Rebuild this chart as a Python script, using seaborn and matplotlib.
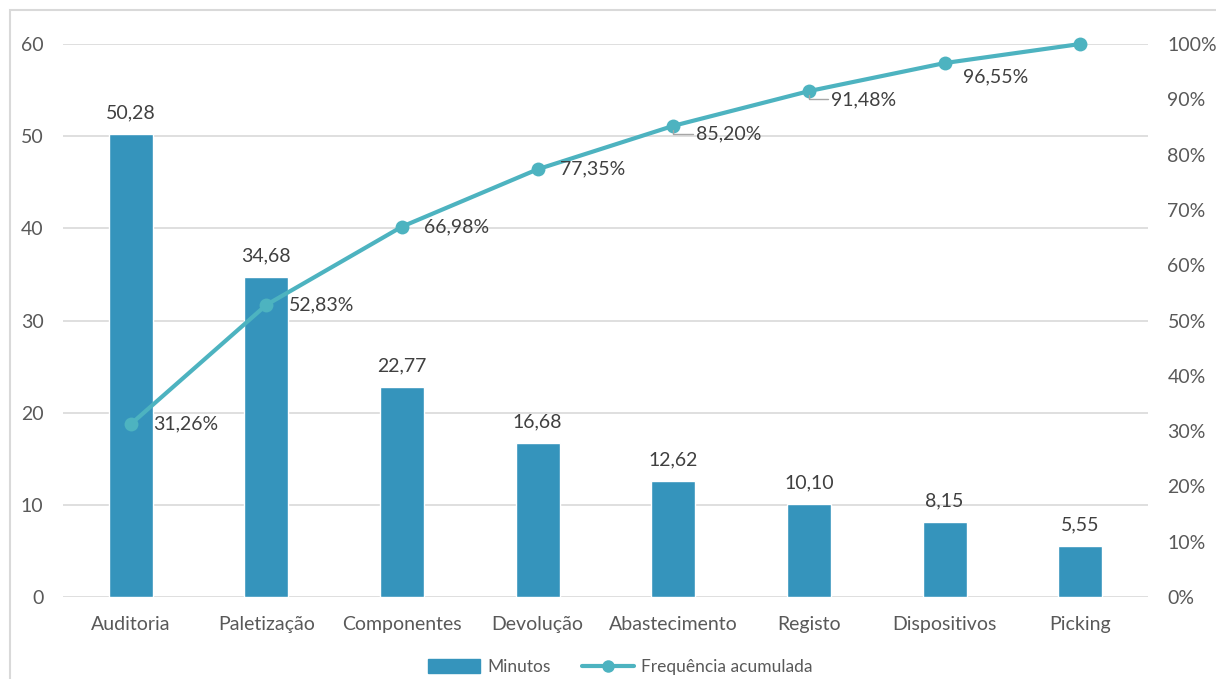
import matplotlib
matplotlib.use("Agg")
import matplotlib.pyplot as plt
from matplotlib.patches import Rectangle
from matplotlib.lines import Line2D
from matplotlib.ticker import FuncFormatter, MultipleLocator
import seaborn as sns
import pandas as pd

categorias = ["Auditoria", "Paletização", "Componentes", "Devolução",
              "Abastecimento", "Registo", "Dispositivos", "Picking"]
minutos = [50.28, 34.68, 22.77, 16.68, 12.62, 10.10, 8.15, 5.55]
freq_acumulada = [31.26, 52.83, 66.98, 77.35, 85.20, 91.48, 96.55, 100.00]
mostrar_rotulo = [True, True, True, True, True, True, True, False]

sns.set_theme(style="white")
plt.rcParams["font.family"] = ["Lato", "DejaVu Sans"]

BAR_COLOR = "#3594bc"
LINE_COLOR = "#4db3c0"
TEXT_COLOR = "#404040"
TICK_COLOR = "#595959"
GRID_COLOR = "#d9d9d9"
FS = 14

df = pd.DataFrame({"categoria": categorias, "minutos": minutos,
                   "acumulada": freq_acumulada})

fig = plt.figure(figsize=(12.16, 6.79), dpi=100)
ax = fig.add_axes([63 / 1216, 1 - 597 / 679, (1148 - 63) / 1216, (597 - 44) / 679])

sns.barplot(data=df, x="categoria", y="minutos", color=BAR_COLOR,
            width=0.325, saturation=1, ax=ax, zorder=2)
ax.set_xlim(-0.5, 7.5)
ax.set_ylim(0, 60)
ax.yaxis.set_major_locator(MultipleLocator(10))
ax.grid(axis="y", color=GRID_COLOR, linewidth=1.2, zorder=0)
ax.set_axisbelow(True)
for s in ax.spines.values():
    s.set_visible(False)
ax.set_xlabel("")
ax.set_ylabel("")
ax.tick_params(axis="x", length=0, pad=14, labelsize=FS, colors=TICK_COLOR)
ax.tick_params(axis="y", length=0, pad=14, labelsize=FS, colors=TICK_COLOR)

for i, v in enumerate(minutos):
    ax.annotate(f"{v:.2f}".replace(".", ","), (i, v), xytext=(0, 9),
                textcoords="offset points", ha="center", va="bottom",
                fontsize=FS, color=TEXT_COLOR)

ax2 = ax.twinx()
sns.lineplot(x=list(range(len(categorias))), y=freq_acumulada, ax=ax2,
             color=LINE_COLOR, linewidth=3, marker="o", markersize=10,
             markeredgewidth=0, zorder=3, clip_on=False)
ax2.set_ylim(0, 100)
ax2.set_xlim(-0.5, 7.5)
ax2.yaxis.set_major_locator(MultipleLocator(10))
ax2.yaxis.set_major_formatter(FuncFormatter(lambda v, p: f"{v:.0f}%"))
ax2.tick_params(axis="y", length=0, pad=14, labelsize=FS, colors=TICK_COLOR)
ax2.grid(False)
for s in ax2.spines.values():
    s.set_visible(False)

# offsets (points) of each cumulative label relative to its marker
offsets = [(16, 0), (16, 0), (16, 0), (16, 0), (16, -6), (16, -6), (13, -10), (0, 0)]
for i, (v, show) in enumerate(zip(freq_acumulada, mostrar_rotulo)):
    if not show:
        continue
    dx, dy = offsets[i]
    ax2.annotate(f"{v:.2f}%".replace(".", ","), (i, v), xytext=(dx, dy),
                 textcoords="offset points", ha="left", va="center",
                 fontsize=FS, color=TEXT_COLOR, zorder=4)
    if dy == -6:
        ax2.annotate("", (i, v), xytext=(dx - 2, dy), textcoords="offset points",
                     arrowprops=dict(arrowstyle="-", color="#a6a6a6", lw=1,
                                     connectionstyle="angle,angleA=0,angleB=90,rad=0",
                                     shrinkA=0, shrinkB=3))

handles = [Rectangle((0, 0), 1, 1, color=BAR_COLOR),
           Line2D([0], [0], color=LINE_COLOR, linewidth=3, marker="o",
                  markersize=9, markeredgewidth=0)]
fig.legend(handles, ["Minutos", "Frequência acumulada"], loc="center",
           bbox_to_anchor=(620 / 1216, 1 - 667 / 679), ncol=2, frameon=False,
           fontsize=12.5, handlelength=3.0, handleheight=0.8, columnspacing=1.8,
           handletextpad=0.4, labelcolor=TICK_COLOR)

# chart frame
fig.patches.append(Rectangle((10 / 1216, -0.05), 1.2, 1 - 10 / 679 + 0.05,
                             transform=fig.transFigure, fill=False,
                             edgecolor=GRID_COLOR, linewidth=1.5))

fig.savefig("out.png", dpi=100)
